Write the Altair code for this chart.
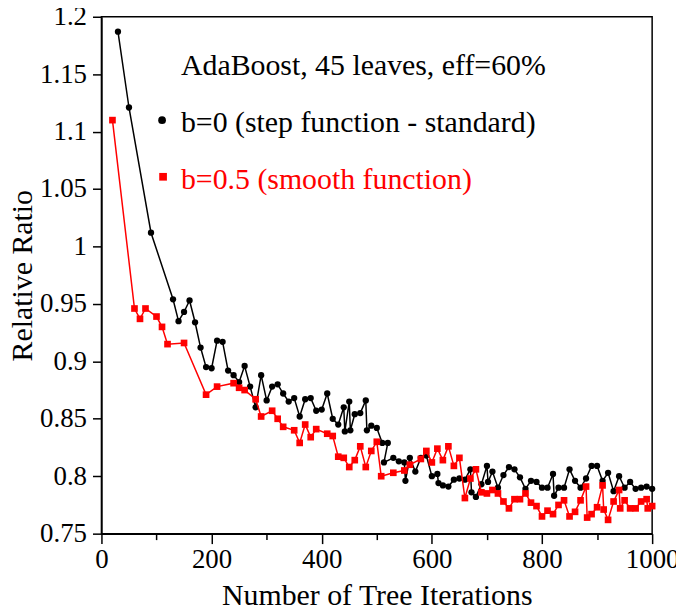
import altair as alt
import pandas as pd

# ---- data ----
b0_x = [30, 50, 90, 130, 140, 150, 160, 170, 180, 190, 200, 210, 220, 230, 240, 250, 260, 270, 280, 290,
        300, 310, 320, 330, 340, 350, 360, 370, 380, 390, 400, 410, 420, 430, 440, 442, 450, 452, 460, 470,
        480, 482, 490, 500, 510, 520, 513, 530, 540, 550, 552, 560, 570, 580, 590, 600, 610, 612, 620, 630,
        640, 650, 660, 670, 672, 680, 690, 700, 702, 710, 720, 730, 740, 750, 760, 770, 780, 790, 800, 810,
        820, 822, 830, 840, 850, 860, 870, 880, 890, 900, 910, 920, 930, 940, 950, 960, 970, 980, 990, 1000]
b0_y = [1.187, 1.121, 1.012, 0.954, 0.935, 0.943, 0.953, 0.934, 0.912, 0.895, 0.894, 0.918, 0.917, 0.892,
        0.888, 0.882, 0.896, 0.878, 0.860, 0.888, 0.866, 0.878, 0.880, 0.872, 0.865, 0.868, 0.852, 0.867,
        0.868, 0.857, 0.858, 0.872, 0.850, 0.845, 0.860, 0.839, 0.865, 0.840, 0.854, 0.855, 0.866, 0.840,
        0.844, 0.842, 0.829, 0.829, 0.812, 0.816, 0.813, 0.812, 0.796, 0.816, 0.804, 0.816, 0.818, 0.800,
        0.802, 0.794, 0.792, 0.791, 0.797, 0.798, 0.797, 0.806, 0.786, 0.782, 0.793, 0.809, 0.795, 0.804,
        0.790, 0.801, 0.808, 0.806, 0.799, 0.789, 0.796, 0.795, 0.790, 0.790, 0.802, 0.783, 0.790, 0.790,
        0.806, 0.796, 0.790, 0.798, 0.809, 0.809, 0.796, 0.803, 0.787, 0.800, 0.790, 0.795, 0.789, 0.790,
        0.791, 0.789]

b5_x = [20, 60, 70, 80, 100, 110, 120, 150, 190, 210, 240, 250, 260, 280, 290, 310, 320, 330, 350, 360,
        370, 380, 390, 410, 420, 430, 440, 450, 460, 470, 480, 490, 500, 508, 530, 550, 560, 580, 590, 600,
        610, 620, 630, 640, 650, 660, 670, 680, 690, 700, 710, 720, 730, 740, 750, 760, 770, 780, 790, 800,
        810, 820, 830, 840, 850, 860, 870, 880, 882, 890, 900, 910, 912, 920, 930, 940, 942, 950, 960, 970,
        980, 990, 992, 1000]
b5_y = [1.110, 0.946, 0.937, 0.946, 0.939, 0.930, 0.915, 0.916, 0.871, 0.878, 0.881, 0.877, 0.875, 0.867,
        0.852, 0.857, 0.850, 0.843, 0.840, 0.829, 0.845, 0.834, 0.841, 0.837, 0.835, 0.817, 0.816, 0.808,
        0.814, 0.826, 0.808, 0.822, 0.830, 0.800, 0.803, 0.805, 0.810, 0.815, 0.822, 0.812, 0.824, 0.814,
        0.826, 0.809, 0.816, 0.781, 0.798, 0.806, 0.786, 0.785, 0.788, 0.785, 0.778, 0.772, 0.780, 0.780,
        0.785, 0.777, 0.774, 0.765, 0.770, 0.767, 0.775, 0.779, 0.765, 0.769, 0.779, 0.791, 0.764, 0.767,
        0.773, 0.792, 0.771, 0.762, 0.778, 0.788, 0.772, 0.779, 0.772, 0.772, 0.778, 0.780, 0.772, 0.774]

x_ticks = list(range(0, 1001, 50))
y_ticks = [round(0.75 + 0.025 * i, 3) for i in range(19)]
title_text = ["AdaBoost, 45 leaves, eff=60%"]
label_b0 = ["b=0 (step function - standard)"]
label_b5 = ["b=0.5 (smooth function)"]

FONT = "'Liberation Serif', 'Times New Roman', Times, 'DejaVu Serif', serif"
RED = "#ff0000"

df0 = pd.DataFrame({"x": b0_x, "y": b0_y, "i": list(range(len(b0_x)))})
df5 = pd.DataFrame({"x": b5_x, "y": b5_y, "i": list(range(len(b5_x)))})

xscale = alt.Scale(domain=[0, 1000], nice=False, zero=False)
yscale = alt.Scale(domain=[0.75, 1.2], nice=False, zero=False)

common_axis = dict(grid=False, labelFont=FONT, titleFont=FONT, labelFontSize=27, titleFontSize=30,
                   titleFontWeight="normal", labelColor="black", titleColor="black",
                   domainColor="black", tickColor="black", domainWidth=1.5, tickWidth=1.5,
                   labelOverlap=False, labelFlush=False)

xaxis = alt.Axis(values=x_ticks, title="Number of Tree Iterations", format="d",
                 labelExpr="datum.value % 200 == 0 ? datum.label : ''",
                 tickSize={"condition": {"test": "datum.value % 200 == 0", "value": 10}, "value": 6},
                 labelPadding=3, titlePadding=8, **common_axis)
yaxis = alt.Axis(values=y_ticks, title="Relative Ratio", format="~g",
                 labelExpr="round(datum.value * 40) % 2 == 0 ? datum.label : ''",
                 tickSize={"condition": {"test": "round(datum.value * 40) % 2 == 0", "value": 9}, "value": 6},
                 labelPadding=6, titlePadding=2, **common_axis)

line0 = alt.Chart(df0).mark_line(color="black", strokeWidth=1.5).encode(
    x=alt.X("x:Q", scale=xscale, axis=xaxis),
    y=alt.Y("y:Q", scale=yscale, axis=yaxis),
    order="i:Q",
)
pts0 = alt.Chart(df0).mark_point(shape="circle", filled=True, color="black", size=40, opacity=1).encode(
    x=alt.X("x:Q", scale=xscale), y=alt.Y("y:Q", scale=yscale)
)
line5 = alt.Chart(df5).mark_line(color=RED, strokeWidth=1.5).encode(
    x=alt.X("x:Q", scale=xscale), y=alt.Y("y:Q", scale=yscale), order="i:Q"
)
pts5 = alt.Chart(df5).mark_point(shape="square", filled=True, color=RED, size=45, opacity=1).encode(
    x=alt.X("x:Q", scale=xscale), y=alt.Y("y:Q", scale=yscale)
)

txt_title = alt.Chart(pd.DataFrame({"t": title_text})).mark_text(
    align="left", baseline="alphabetic", font=FONT, fontSize=30, color="black"
).encode(x=alt.value(80), y=alt.value(59), text="t:N")
txt_b0 = alt.Chart(pd.DataFrame({"t": label_b0})).mark_text(
    align="left", baseline="alphabetic", font=FONT, fontSize=30, color="black"
).encode(x=alt.value(80), y=alt.value(116), text="t:N")
txt_b5 = alt.Chart(pd.DataFrame({"t": label_b5})).mark_text(
    align="left", baseline="alphabetic", font=FONT, fontSize=30, color=RED
).encode(x=alt.value(80), y=alt.value(173), text="t:N")
sym_b0 = alt.Chart(pd.DataFrame({"t": label_b0})).mark_point(
    shape="circle", filled=True, color="black", size=60, opacity=1
).encode(x=alt.value(61), y=alt.value(104))
sym_b5 = alt.Chart(pd.DataFrame({"t": label_b5})).mark_point(
    shape="square", filled=True, color=RED, size=60, opacity=1
).encode(x=alt.value(62), y=alt.value(161))

chart = alt.layer(line0, pts0, line5, pts5, txt_title, txt_b0, txt_b5, sym_b0, sym_b5).properties(
    width=554, height=520,
    autosize=alt.AutoSizeParams(type="none"),
    padding={"left": 94, "top": 7, "right": 24, "bottom": 74},
).configure_view(stroke="black", strokeWidth=1.5)

chart.save("out.html", embed_options={"renderer": "svg", "actions": False})
